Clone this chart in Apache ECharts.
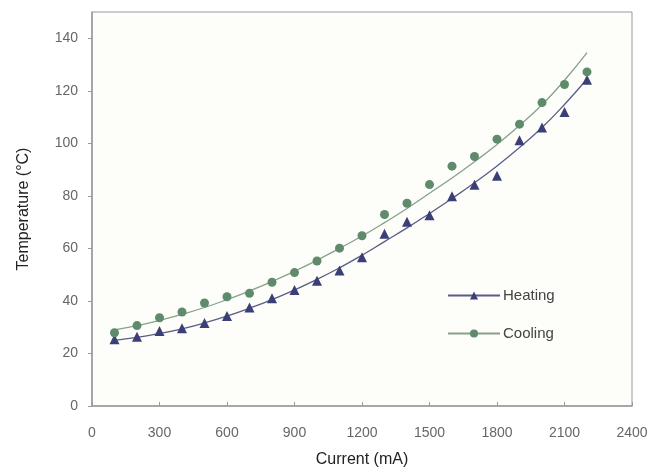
<!DOCTYPE html>
<html>
<head>
<meta charset="utf-8">
<script src="https://cdn.jsdelivr.net/npm/echarts@6/dist/echarts.min.js"></script>
<style>html,body{margin:0;padding:0;background:#fff;}#c{width:653px;height:473px;}</style>
</head>
<body>
<div id="c"></div>
<script>
const currents = [100,200,300,400,500,600,700,800,900,1000,1100,1200,1300,1400,1500,1600,1700,1800,1900,2000,2100,2200];
const heatingMeasured = [25.4,26.4,28.6,29.6,31.6,34.3,37.5,41.0,44.2,47.7,51.6,56.6,65.6,70.1,72.6,79.9,84.2,87.7,101.2,106.0,111.9,124.2];
const coolingMeasured = [27.9,30.6,33.6,35.8,39.2,41.6,42.9,47.1,50.8,55.2,60.1,64.8,72.9,77.2,84.3,91.3,95.0,101.6,107.3,115.5,122.4,127.2];
const heatingTrend = [25.0,26.1,27.6,29.4,31.6,34.2,37.2,40.5,44.2,48.2,52.6,57.4,62.6,67.8,73.3,79.0,85.0,91.4,98.4,106.0,114.8,124.5];
const coolingTrend = [29.0,30.6,32.6,34.9,37.5,40.5,43.8,47.4,51.3,55.5,60.0,64.7,69.8,75.2,81.0,86.8,93.0,99.6,106.8,114.7,124.0,134.5];
const xTicks = [0,300,600,900,1200,1500,1800,2100,2400];
const yTicks = [0,20,40,60,80,100,120,140];

const pair = (xs, ys) => xs.map((x, i) => [x, ys[i]]);
const heatLine = '#5a5c88', heatMark = '#3b3f78';
const coolLine = '#87a08c', coolMark = '#5f8a6b';

const chart = echarts.init(document.getElementById('c'), null, {renderer: 'canvas'});
chart.setOption({
  backgroundColor: '#ffffff',
  animation: false,
  grid: {left: 92, right: 21, top: 12, bottom: 67, show: true, borderColor: '#9a9a9a', borderWidth: 1, backgroundColor: '#fdfdf9'},
  legend: {
    data: ['Heating', 'Cooling'],
    orient: 'vertical',
    left: 442, top: 283,
    itemWidth: 52, itemHeight: 10, itemGap: 23,
    textStyle: {fontFamily: 'Liberation Sans', fontSize: 15, color: '#444', padding: [0,0,0,-2]}
  },
  xAxis: {
    type: 'value', min: xTicks[0], max: xTicks[xTicks.length-1], interval: 300,
    name: 'Current (mA)', nameLocation: 'middle', nameGap: 46,
    nameTextStyle: {fontFamily: 'Liberation Sans', fontSize: 16, color: '#222'},
    axisLine: {show: true, lineStyle: {color: '#9a9a9a', width: 1.5}},
    axisTick: {show: true, inside: true, length: 4, lineStyle: {color: '#9a9a9a'}},
    axisLabel: {fontFamily: 'Liberation Sans', fontSize: 14, color: '#666', margin: 20, formatter: v => String(v)},
    splitLine: {show: false}
  },
  yAxis: {
    type: 'value', min: yTicks[0], max: 150, interval: 20,
    name: 'Temperature (\u00B0C)', nameLocation: 'middle', nameGap: 60,
    nameTextStyle: {fontFamily: 'Liberation Sans', fontSize: 16, color: '#222'},
    axisLine: {show: true, lineStyle: {color: '#9a9a9a', width: 1.5}},
    axisTick: {show: true, inside: false, length: 4, lineStyle: {color: '#9a9a9a'}},
    axisLabel: {fontFamily: 'Liberation Sans', fontSize: 14, color: '#666', margin: 14, showMaxLabel: false},
    splitLine: {show: false}
  },
  series: [
    {name: 'Heating', type: 'line', data: pair(currents, heatingTrend), smooth: true, symbol: 'triangle', symbolSize: 8, showSymbol: false,
     lineStyle: {color: heatLine, width: 1.3}, itemStyle: {color: heatMark}},
    {name: 'Cooling', type: 'line', data: pair(currents, coolingTrend), smooth: true, symbol: 'circle', symbolSize: 7, showSymbol: false,
     lineStyle: {color: coolLine, width: 1.3}, itemStyle: {color: coolMark}},
    {name: 'Heating pts', type: 'scatter', data: pair(currents, heatingMeasured), symbol: 'triangle', symbolSize: 10, itemStyle: {color: heatMark, opacity: 1}, z: 3},
    {name: 'Cooling pts', type: 'scatter', data: pair(currents, coolingMeasured), symbol: 'circle', symbolSize: 9, itemStyle: {color: coolMark, opacity: 1}, z: 3}
  ]
});
</script>
</body>
</html>
